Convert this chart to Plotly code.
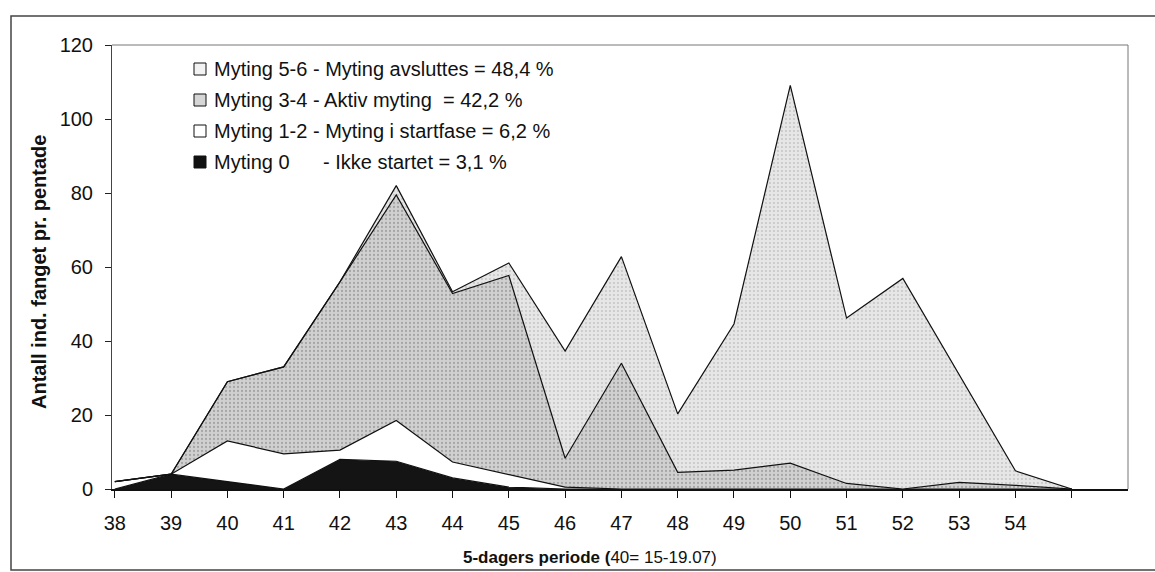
import plotly.graph_objects as go

# 5-day periods (pentads); 40 = 15-19.07
periods = list(range(38, 56))

# Catch per pentad, split by maturation stage (stacked bottom to top)
myting_0 = [0, 4, 2, 0, 8, 7.5, 3, 0.5, 0, 0, 0, 0, 0, 0, 0, 0, 0, 0]
myting_12 = [2, 0, 11, 9.5, 2.5, 11, 4.3, 3.5, 0.5, 0, 0, 0, 0, 0, 0, 0, 0, 0]
myting_34 = [0, 0, 16, 23.5, 45.5, 61, 45.5, 53.7, 7.8, 34, 4.5, 5.1, 7, 1.5, 0, 1.8, 1, 0]
myting_56 = [0, 0, 0, 0, 0, 2.5, 0.5, 3.4, 29, 28.8, 15.8, 39.5, 102.1, 44.7, 56.9, 29.1, 3.9, 0]

x_tick_vals = list(range(38, 56))
x_tick_text = [str(v) for v in range(38, 55)] + [""]
y_tick_vals = [0, 20, 40, 60, 80, 100, 120]

legend_labels = [
    "Myting 5-6 - Myting avsluttes = 48,4 %",
    "Myting 3-4 - Aktiv myting\u00a0\u00a0= 42,2 %",
    "Myting 1-2 - Myting i startfase = 6,2 %",
    "Myting 0\u00a0\u00a0\u00a0\u00a0\u00a0\u00a0- Ikke startet = 3,1 %",
]
legend_swatches = ["#f2f2f2", "#d6d6d6", "#ffffff", "#111111"]

FONT = "Liberation Sans, Arial, Helvetica, sans-serif"
W, H = 1155, 572
ML, MR, MT, MB = 112, 27, 45, 83
PW, PH = W - ML - MR, H - MT - MB


def px(xp):
    return (xp - ML) / PW


def py(yp):
    return (H - MB - yp) / PH


line = dict(color="#111111", width=1.2)

fig = go.Figure()
fig.add_trace(go.Scatter(
    x=periods, y=myting_0, stackgroup="one", mode="lines", line=line,
    fillcolor="#141414", showlegend=False, name="Myting 0"))
fig.add_trace(go.Scatter(
    x=periods, y=myting_12, stackgroup="one", mode="lines", line=line,
    fillcolor="#ffffff", showlegend=False, name="Myting 1-2"))
fig.add_trace(go.Scatter(
    x=periods, y=myting_34, stackgroup="one", mode="lines", line=line,
    fillpattern=dict(shape=".", bgcolor="#d0d0d0", fgcolor="#7a7a7a",
                     size=4, solidity=0.25),
    showlegend=False, name="Myting 3-4"))
fig.add_trace(go.Scatter(
    x=periods, y=myting_56, stackgroup="one", mode="lines", line=line,
    fillpattern=dict(shape=".", bgcolor="#e6e6e6", fgcolor="#a0a0a0",
                     size=4, solidity=0.18),
    showlegend=False, name="Myting 5-6"))

shapes = []
annotations = []

# outer chart frame
shapes.append(dict(type="rect", xref="paper", yref="paper",
                   x0=px(11), x1=px(1170), y0=py(570), y1=py(16),
                   line=dict(color="#444444", width=1.5), layer="below"))
# plot-area border (top and right)
shapes.append(dict(type="line", xref="paper", yref="paper",
                   x0=0, x1=1, y0=1, y1=1, line=dict(color="#777777", width=1)))
shapes.append(dict(type="line", xref="paper", yref="paper",
                   x0=1, x1=1, y0=0, y1=1, line=dict(color="#777777", width=1)))

# legend: swatch squares and labels
rows = [69, 100, 131, 162]
for label, colour, yr in zip(legend_labels, legend_swatches, rows):
    shapes.append(dict(type="rect", xref="paper", yref="paper",
                       x0=px(194), x1=px(206), y0=py(yr + 6), y1=py(yr - 6),
                       fillcolor=colour, line=dict(color="#111111", width=1)))
    annotations.append(dict(xref="paper", yref="paper", x=px(212), y=py(yr),
                            xanchor="left", yanchor="middle", showarrow=False,
                            text=label, font=dict(family=FONT, size=20, color="#111111")))

# axis titles
annotations.append(dict(xref="paper", yref="paper", x=px(39), y=py(272),
                        xanchor="center", yanchor="middle", showarrow=False,
                        textangle=-90, text="<b>Antall ind. fanget pr. pentade</b>",
                        font=dict(family=FONT, size=20, color="#111111")))
annotations.append(dict(xref="paper", yref="paper", x=px(590), y=py(557),
                        xanchor="center", yanchor="middle", showarrow=False,
                        text="<b>5-dagers periode (</b>40= 15-19.07)",
                        font=dict(family=FONT, size=17, color="#111111")))

fig.update_layout(
    width=W, height=H,
    margin=dict(l=ML, r=MR, t=MT, b=MB, pad=0),
    paper_bgcolor="white", plot_bgcolor="white",
    font=dict(family=FONT, color="#111111"),
    showlegend=False,
    shapes=shapes,
    annotations=annotations,
    xaxis=dict(
        range=[37.95, 56], tickmode="array", tickvals=x_tick_vals, ticktext=x_tick_text,
        ticks="outside", ticklen=7, tickcolor="#111111", tickwidth=1,
        showline=True, linecolor="#111111", linewidth=2,
        showgrid=False, zeroline=False,
        tickfont=dict(family=FONT, size=20, color="#111111"),
        ticklabelstandoff=8,
    ),
    yaxis=dict(
        range=[0, 120], tickmode="array", tickvals=y_tick_vals,
        ticks="outside", ticklen=6, tickcolor="#222222", tickwidth=1,
        showline=True, linecolor="#444444", linewidth=1,
        showgrid=False, zeroline=False,
        tickfont=dict(family=FONT, size=20, color="#111111"),
        ticklabelstandoff=8,
    ),
    yaxis2=dict(
        overlaying="y", anchor="x", side="left", range=[0, 120],
        tickmode="array", tickvals=y_tick_vals, ticks="inside", ticklen=6,
        tickcolor="#222222", showticklabels=False, showgrid=False,
        zeroline=False, showline=False,
    ),
)

fig.write_html("out.html")
